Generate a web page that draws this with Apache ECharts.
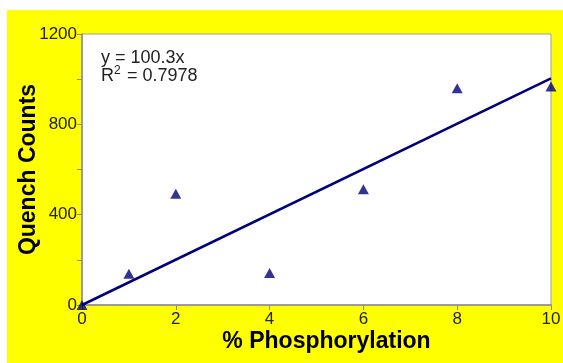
<!DOCTYPE html>
<html>
<head>
<meta charset="utf-8">
<script src="https://cdn.jsdelivr.net/npm/echarts@6/dist/echarts.min.js"></script>
<style>
  html, body { margin: 0; padding: 0; background: #ffffff; }
  #chart {
    position: absolute;
    left: 7px;
    top: 10px;
    width: 556px;
    height: 353px;
    background: #ffff00;
  }
</style>
</head>
<body>
<div id="chart"></div>
<script>
const phosphorylation = [0, 1, 2, 4, 6, 8, 10];
const quenchCounts = [0, 138, 493, 142, 513, 960, 968];

// fitted line y = 100.3x through the origin
const trendX = [0, 10];
const trendY = [0, 1003];

const equationText = 'y = 100.3x';
const rSquaredText = ' = 0.7978';

const navy = '#00007a';
const font = '"Liberation Sans", Arial, sans-serif';

const chart = echarts.init(document.getElementById('chart'));

chart.setOption({
  animation: false,
  grid: {
    left: 75,
    right: 12,
    top: 24,
    bottom: 58,
    outerBoundsMode: 'none',
    containLabel: false,
    show: true,
    backgroundColor: '#ffffff',
    borderColor: '#a0a0a0',
    borderWidth: 1
  },
  xAxis: {
    type: 'value',
    min: 0,
    max: 10,
    interval: 2,
    name: '% Phosphorylation',
    nameLocation: 'middle',
    nameGap: 25,
    nameMoveOverlap: false,
    nameTextStyle: {
      fontFamily: font,
      fontWeight: 'bold',
      fontSize: 23,
      color: '#000',
      padding: [0, 0, 0, 20]
    },
    axisLine: { lineStyle: { color: '#8c8c8c', width: 1.5 } },
    axisTick: { show: true, inside: false, length: 5, lineStyle: { color: '#8c8c8c' } },
    axisLabel: { margin: 6, fontFamily: font, fontSize: 17, color: '#222' },
    splitLine: { show: false }
  },
  yAxis: {
    type: 'value',
    min: 0,
    max: 1200,
    interval: 200,
    name: 'Quench Counts',
    nameLocation: 'middle',
    nameGap: 42,
    nameMoveOverlap: false,
    nameTextStyle: {
      fontFamily: font,
      fontWeight: 'bold',
      fontSize: 23,
      color: '#000'
    },
    axisLine: { show: true, lineStyle: { color: '#8c8c8c', width: 1.5 } },
    axisTick: { show: true, inside: false, length: 5, lineStyle: { color: '#8c8c8c' } },
    axisLabel: {
      margin: 5,
      fontFamily: font,
      fontSize: 17,
      color: '#222',
      formatter: (v) => (v % 400 === 0 ? String(v) : '')
    },
    splitLine: { show: false }
  },
  graphic: [
    {
      type: 'text',
      left: 94,
      top: 39,
      style: { text: equationText, font: '18px ' + font, fill: '#222' }
    },
    {
      type: 'text',
      left: 94,
      top: 57,
      style: { text: 'R', font: '18px ' + font, fill: '#222' }
    },
    {
      type: 'text',
      left: 107,
      top: 55,
      style: { text: '2', font: '12px ' + font, fill: '#222' }
    },
    {
      type: 'text',
      left: 115,
      top: 57,
      style: { text: rSquaredText, font: '18px ' + font, fill: '#222' }
    }
  ],
  series: [
    {
      type: 'line',
      data: trendX.map((x, i) => [x, trendY[i]]),
      showSymbol: false,
      symbol: 'none',
      lineStyle: { color: navy, width: 2.5 },
      z: 2
    },
    {
      type: 'scatter',
      data: phosphorylation.map((x, i) => [x, quenchCounts[i]]),
      symbol: 'triangle',
      symbolSize: [11, 10],
      itemStyle: { color: navy },
      clip: false,
      z: 3
    }
  ]
});
</script>
</body>
</html>
